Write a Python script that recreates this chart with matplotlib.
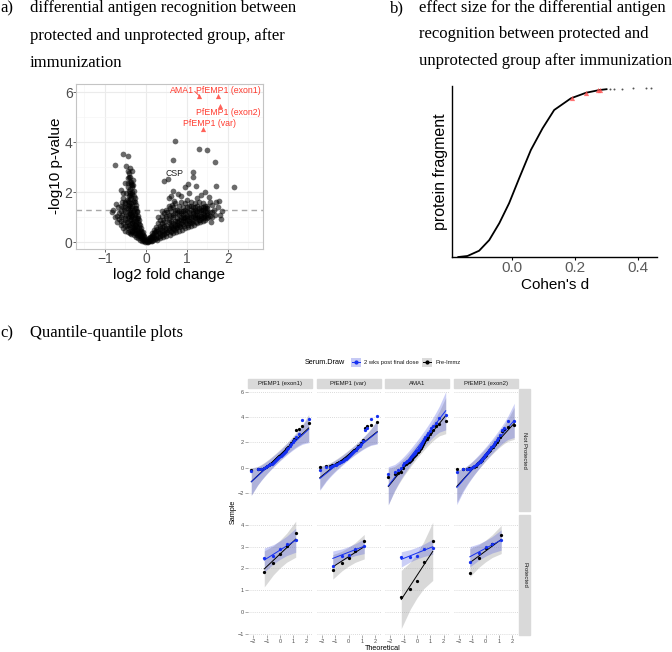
import matplotlib
matplotlib.use('Agg')
import matplotlib.pyplot as plt
from matplotlib.patches import Rectangle
from matplotlib.lines import Line2D
import numpy as np
from statistics import NormalDist

# ---------------- data ----------------
# panel a: volcano plot (log2 fold change, -log10 p)
volcano_pts = [
    (-0.02, 0.02), (-0.04, 0.06), (-0.05, 0.12), (-0.08, 0.1), (-0.1, 0.05), (-0.12, 0.18), (-0.15, 0.1),
    (-0.06, 0.2), (-0.18, 0.25), (-0.2, 0.15), (-0.22, 0.3), (-0.14, 0.32), (-0.25, 0.22), (-0.28, 0.35),
    (-0.3, 0.28), (-0.1, 0.38), (-0.33, 0.4), (-0.2, 0.42), (-0.36, 0.32), (-0.4, 0.45), (-0.26, 0.48),
    (-0.03, 0.1), (-0.07, 0.3), (-0.12, 0.45), (-0.16, 0.6), (-0.19, 0.8), (-0.23, 0.95), (-0.26, 1.15),
    (-0.3, 1.3), (-0.45, 0.55), (-0.15, 0.5), (-0.32, 0.55), (-0.38, 0.6), (-0.5, 0.65), (-0.22, 0.6),
    (-0.28, 0.68), (-0.42, 0.7), (-0.55, 0.75), (-0.35, 0.78), (-0.18, 0.72), (-0.47, 0.82), (-0.6, 0.85),
    (-0.25, 0.85), (-0.4, 0.9), (-0.3, 0.95), (-0.52, 0.95), (-0.65, 0.92), (-0.2, 0.98), (-0.36, 1.02),
    (-0.45, 1.05), (-0.58, 1.1), (-0.27, 1.1), (-0.7, 1.05), (-0.4, 1.15), (-0.32, 1.2), (-0.5, 1.2),
    (-0.22, 1.25), (-0.62, 1.25), (-0.38, 1.3), (-0.45, 1.35), (-0.28, 1.38), (-0.55, 1.4), (-0.35, 1.45),
    (-0.68, 1.42), (-0.42, 1.5), (-0.25, 1.5), (-0.5, 1.55), (-0.8, 1.3), (-0.76, 1.0), (-0.82, 1.22),
    (-0.32, 1.6), (-0.45, 1.65), (-0.38, 1.72), (-0.28, 1.78), (-0.55, 1.75), (-0.42, 1.85), (-0.33, 1.92),
    (-0.48, 1.98), (-0.3, 2.05), (-0.38, 2.12), (-0.45, 2.2), (-0.35, 2.28), (-0.5, 2.35), (-0.4, 2.42),
    (-0.32, 2.5), (-0.45, 2.55), (-0.55, 1.95), (-0.6, 2.1), (-0.58, 1.6), (-0.73, 1.52),
    (-0.38, 2.62), (-0.42, 2.75), (-0.35, 2.85), (-0.45, 2.83), (-0.48, 3.05), (-0.76, 3.09), (-0.57, 3.52),
    (-0.45, 3.45), (-0.4, 2.95), (-0.36, 2.4),
    (-0.34, 0.65), (-0.42, 1.0), (-0.35, 1.1), (-0.48, 1.1), (-0.38, 1.45), (-0.3, 1.65), (-0.4, 1.95),
    (-0.36, 1.8), (-0.44, 2.35), (-0.33, 2.2), (-0.5, 1.4), (-0.6, 1.0), (-0.55, 0.55), (-0.62, 0.7),
    (-0.27, 0.55), (-0.24, 0.75), (-0.15, 0.28), (-0.09, 0.22), (-0.17, 0.42),
    (-0.05, 0.25), (-0.08, 0.4), (-0.11, 0.55), (-0.14, 0.7), (-0.17, 0.88), (-0.2, 1.05), (-0.23, 1.2),
    (-0.25, 1.35), (-0.27, 1.6), (-0.29, 1.85), (-0.31, 2.3), (-0.24, 0.35), (-0.29, 0.5), (-0.33, 0.75),
    (-0.37, 0.92), (-0.41, 1.25), (-0.44, 1.45), (-0.47, 1.7), (-0.36, 1.58), (-0.34, 1.35), (-0.39, 1.12),
    (-0.43, 0.8), (-0.47, 0.65), (-0.35, 0.45), (-0.3, 0.62), (-0.31, 0.85), (-0.28, 1.02), (-0.33, 1.05),
    (-0.37, 1.2), (-0.41, 1.62), (-0.39, 1.88), (-0.35, 2.0), (-0.42, 2.05), (-0.37, 2.32), (-0.42, 2.6),
    (-0.5, 0.9), (-0.53, 1.3), (-0.52, 1.6), (-0.6, 1.45), (-0.65, 1.15), (-0.7, 0.8), (-0.21, 0.5),
    (-0.19, 0.35), (-0.13, 0.25), (-0.25, 0.65), (-0.29, 0.82), (-0.4, 0.35), (-0.45, 0.4), (-0.5, 0.45),
    (0.02, 0.02), (0.05, 0.05), (0.08, 0.03), (0.1, 0.1), (0.12, 0.06), (0.15, 0.15), (0.18, 0.08),
    (0.2, 0.2), (0.22, 0.12), (0.25, 0.28), (0.28, 0.1), (0.3, 0.2), (0.32, 0.35), (0.35, 0.15),
    (0.38, 0.28), (0.4, 0.42), (0.42, 0.2), (0.45, 0.32), (0.48, 0.5), (0.5, 0.25), (0.52, 0.4),
    (0.55, 0.58), (0.58, 0.3), (0.6, 0.45), (0.62, 0.65), (0.65, 0.35), (0.68, 0.52), (0.7, 0.72),
    (0.72, 0.4), (0.75, 0.6), (0.78, 0.8), (0.8, 0.45), (0.82, 0.65), (0.85, 0.9), (0.88, 0.5),
    (0.9, 0.72), (0.92, 0.98), (0.95, 0.55), (0.98, 0.78), (1.0, 1.05), (1.02, 0.6), (1.05, 0.85),
    (1.08, 1.1), (1.1, 0.65), (1.12, 0.9), (1.15, 1.15), (1.18, 0.7), (1.2, 0.95), (1.22, 1.2),
    (1.25, 0.75), (1.28, 1.0), (1.3, 1.25), (1.32, 0.8), (1.35, 1.05), (1.38, 1.3), (1.4, 0.85),
    (1.42, 1.1), (1.45, 0.9), (1.48, 1.15), (1.5, 0.95), (1.55, 1.2), (1.6, 1.0), (1.65, 1.3), (1.58, 0.8),
    (0.15, 0.35), (0.2, 0.5), (0.25, 0.62), (0.3, 0.75), (0.3, 1.0), (0.35, 0.88), (0.4, 1.05),
    (0.38, 1.25), (0.45, 1.18), (0.45, 0.8), (0.5, 1.3), (0.5, 0.95), (0.55, 1.1), (0.55, 1.45),
    (0.6, 1.25), (0.6, 0.85), (0.65, 1.4), (0.65, 1.0), (0.7, 1.15), (0.7, 1.55), (0.75, 1.3),
    (0.75, 0.95), (0.8, 1.45), (0.8, 1.1), (0.85, 1.25), (0.85, 1.6), (0.9, 1.4), (0.9, 1.1),
    (0.95, 1.3), (0.95, 1.55), (1.0, 1.25), (1.0, 1.7), (1.05, 1.45), (1.1, 1.3), (1.1, 1.6),
    (1.15, 1.4), (1.2, 1.55), (1.2, 1.3), (1.25, 1.45), (1.3, 1.6), (1.35, 1.4), (1.4, 1.55),
    (1.45, 1.35), (1.5, 1.45), (1.55, 1.6), (1.62, 1.5),
    (0.3, 0.45), (0.4, 0.6), (0.5, 0.7), (0.6, 0.6), (0.7, 0.85), (0.8, 0.7), (0.9, 0.85), (1.0, 0.9),
    (1.1, 0.8), (1.2, 1.1), (1.3, 0.9), (1.4, 1.0), (1.5, 1.1), (0.2, 0.35), (0.25, 0.45), (0.35, 0.55),
    (0.45, 0.65), (0.55, 0.8), (0.65, 0.75), (0.75, 0.85), (0.85, 1.0), (0.95, 1.0), (1.05, 1.0),
    (1.15, 1.05), (1.25, 1.1), (1.35, 1.2), (1.45, 1.25),
    (0.06, 0.12), (0.1, 0.2), (0.14, 0.25), (0.18, 0.3), (0.22, 0.4), (0.27, 0.52), (0.33, 0.65),
    (0.38, 0.75), (0.42, 0.9), (0.48, 1.05), (0.52, 1.2), (0.58, 1.35), (0.63, 1.5), (0.68, 1.65),
    (0.35, 0.38), (0.45, 0.45), (0.55, 0.5), (0.65, 0.55), (0.75, 0.7), (0.85, 0.75), (0.95, 0.85),
    (1.05, 0.75), (1.15, 0.85), (1.25, 0.95), (1.35, 0.95), (1.45, 1.05), (1.55, 1.05), (1.6, 1.2),
    (0.4, 0.5), (0.5, 0.55), (0.6, 0.7), (0.7, 0.65), (0.8, 0.9), (0.9, 0.95), (1.0, 0.95), (1.1, 1.0),
    (1.2, 1.0), (1.3, 1.05), (1.4, 1.15), (1.5, 1.25), (0.55, 0.9), (0.65, 1.1), (0.75, 1.15),
    (0.85, 1.15), (0.95, 1.15), (1.05, 1.2), (1.15, 1.25), (1.25, 1.25), (1.35, 1.3), (1.45, 1.45),
    (0.6, 1.05), (0.7, 1.3), (0.8, 1.25), (0.9, 1.25), (1.0, 1.4), (1.1, 1.45), (1.2, 1.4), (1.3, 1.35),
    (1.4, 1.4), (1.5, 1.35), (0.72, 0.55), (0.82, 0.6), (0.92, 0.65), (1.02, 0.7), (1.12, 0.75),
    (1.22, 0.8), (1.32, 0.88), (1.42, 0.95), (1.52, 1.0), (0.5, 0.38), (0.6, 0.4), (0.7, 0.48),
    (0.25, 0.18), (0.33, 0.25), (0.15, 0.05), (0.05, 0.02), (0.03, 0.08), (0.08, 0.15), (0.12, 0.2),
    (0.65, 2.05), (0.77, 1.92), (0.94, 2.19), (1.02, 2.32), (1.22, 2.25), (1.14, 2.59), (1.14, 2.79),
    (1.7, 2.25), (2.14, 2.21), (1.7, 1.59), (1.78, 1.65), (1.86, 1.25), (1.84, 0.92), (1.69, 1.09),
    (1.53, 1.79), (0.45, 2.45), (0.54, 2.52), (0.67, 3.28), (0.715, 4.03), (1.29, 3.72), (1.5, 3.7),
    (1.69, 3.19), (0.55, 1.75), (0.62, 1.85), (1.35, 1.9), (1.25, 1.75), (0.85, 1.85), (1.05, 1.95),
    (1.45, 2.0), (1.75, 1.4), (1.8, 1.1),
]
hit_names = ['AMA1', 'PfEMP1 (exon1)', 'PfEMP1 (exon2)', 'PfEMP1 (var)']
hit_fc = [1.30, 1.75, 1.81, 1.38]
hit_p = [5.85, 5.86, 5.45, 4.52]
p_cutoff = 1.3

# panel b: sorted effect sizes
cohen_d = [-0.17, -0.141, -0.104, -0.072, -0.040, -0.009, 0.023, 0.060, 0.097, 0.134, 0.187, 0.235, 0.277, 0.30]
fragment_rank = [0.0, 0.006, 0.037, 0.10, 0.20, 0.318, 0.466, 0.633, 0.761, 0.870, 0.939, 0.972, 0.988, 0.993]
tail_d = [0.31, 0.325, 0.35, 0.385, 0.425, 0.44]
tail_rank = [0.995, 0.996, 0.997, 0.998, 0.999, 1.0]
hit_d = [0.19, 0.235, 0.272, 0.28]
hit_rank = [0.94, 0.972, 0.986, 0.99]

# panel c: QQ samples
antigens = ['PfEMP1 (exon1)', 'PfEMP1 (var)', 'AMA1', 'PfEMP1 (exon2)']
groups = ['Not Protected', 'Protected']
exon1_np_pre = [-0.15, -0.13, -0.10, -0.02, 0.06, 0.14, 0.22, 0.30, 0.38, 0.46, 0.54, 0.62, 0.70, 0.78, 0.86, 0.94,
                1.02, 1.10, 1.18, 1.27, 1.36, 1.45, 1.55, 1.65, 1.78, 1.92, 2.08, 2.25, 2.95, 3.08, 3.25, 3.50]
exon1_np_post = [-0.22, -0.12, -0.06, 0.00, 0.06, 0.12, 0.19, 0.26, 0.33, 0.40, 0.47, 0.54, 0.61, 0.68, 0.75, 0.82,
                 0.90, 0.98, 1.06, 1.15, 1.25, 1.35, 1.46, 1.58, 1.70, 1.84, 2.00, 2.20, 2.40, 2.62, 3.80, 3.82]
var_np_pre = [0.10, 0.12, 0.16, 0.20, 0.25, 0.30, 0.36, 0.42, 0.48, 0.54, 0.60, 0.66, 0.72, 0.78, 0.85, 0.92,
              0.99, 1.06, 1.13, 1.21, 1.29, 1.38, 1.47, 1.57, 1.68, 1.80, 1.95, 2.15, 3.15, 3.28, 3.35, 3.62]
var_np_post = [-0.15, 0.05, 0.10, 0.15, 0.20, 0.25, 0.30, 0.36, 0.42, 0.48, 0.54, 0.60, 0.66, 0.72, 0.79, 0.86,
               0.93, 1.00, 1.08, 1.16, 1.24, 1.33, 1.42, 1.52, 1.63, 1.75, 1.90, 2.10, 3.00, 3.12, 3.85, 4.05]
ama1_np_pre = [-0.70, -0.45, -0.40, -0.30, -0.05, 0.20, 0.30, 0.38, 0.46, 0.54, 0.62, 0.72, 0.82, 0.92, 1.02, 1.12,
               1.22, 1.33, 1.45, 1.58, 1.72, 1.86, 2.00, 2.15, 2.30, 2.45, 2.62, 2.80, 3.00, 3.25, 3.45, 3.72]
ama1_np_post = [-0.50, -0.30, -0.20, 0.00, 0.20, 0.35, 0.45, 0.55, 0.63, 0.72, 0.81, 0.90, 1.00, 1.10, 1.20, 1.31,
                1.42, 1.54, 1.66, 1.80, 1.95, 2.10, 2.26, 2.42, 2.58, 2.75, 2.92, 3.10, 3.30, 3.55, 3.95, 4.15]
exon2_np_pre = [-0.10, -0.10, -0.08, -0.05, -0.02, 0.03, 0.10, 0.18, 0.26, 0.35, 0.45, 0.55, 0.65, 0.75, 0.85, 0.95,
                1.04, 1.13, 1.22, 1.32, 1.42, 1.52, 1.63, 1.76, 1.90, 2.05, 2.20, 2.40, 2.90, 3.05, 3.20, 3.40]
exon2_np_post = [-0.37, -0.12, -0.10, -0.06, -0.01, 0.05, 0.12, 0.20, 0.28, 0.37, 0.47, 0.57, 0.67, 0.77, 0.87, 0.97,
                 1.07, 1.17, 1.27, 1.38, 1.50, 1.62, 1.75, 1.88, 2.02, 2.18, 2.36, 2.58, 3.00, 3.12, 3.65, 3.72]
exon1_p_pre = [1.86, 2.27, 2.65, 3.05, 3.62]
exon1_p_post = [2.50, 2.58, 2.88, 3.10, 3.30]
var_p_pre = [1.95, 2.27, 2.50, 2.80, 3.28]
var_p_post = [2.12, 2.58, 2.62, 2.90, 3.02]
ama1_p_pre = [0.69, 1.05, 1.42, 2.31, 3.25]
ama1_p_post = [2.52, 2.54, 2.56, 2.87, 2.95]
exon2_p_pre = [1.78, 2.49, 2.95, 3.10, 3.52]
exon2_p_post = [2.30, 2.70, 3.00, 3.14, 3.30]

samples_pre = [[exon1_np_pre, var_np_pre, ama1_np_pre, exon2_np_pre],
               [exon1_p_pre, var_p_pre, ama1_p_pre, exon2_p_pre]]
samples_post = [[exon1_np_post, var_np_post, ama1_np_post, exon2_np_post],
                [exon1_p_post, var_p_post, ama1_p_post, exon2_p_post]]

# ---------------- figure ----------------
W, H = 672, 652
fig = plt.figure(figsize=(W / 100, H / 100), dpi=100)
SERIF = ['Liberation Serif', 'DejaVu Serif']
SANS = ['Liberation Sans', 'DejaVu Sans']


def box(x0, y0, x1, y1):
    # pixel box, origin top-left -> figure fraction rect
    return [x0 / W, 1 - y1 / H, (x1 - x0) / W, (y1 - y0) / H]


def ftext(x, y, s, **kw):
    kw.setdefault('family', SANS)
    fig.text(x / W, 1 - y / H, s, **kw)


# headings
ftext(0, 12, 'a)', family=SERIF, fontsize=12, va='baseline')
for i, line in enumerate(['differential antigen recognition between',
                          'protected and unprotected group, after', 'immunization']):
    ftext(30, 12 + i * 27.5, line, family=SERIF, fontsize=12, va='baseline')
ftext(390, 12, 'b)', family=SERIF, fontsize=12, va='baseline')
for i, line in enumerate(['effect size for the differential antigen',
                          'recognition between protected and',
                          'unprotected group after immunization']):
    ftext(419, 12 + i * 26.5, line, family=SERIF, fontsize=12, va='baseline')
ftext(0, 337, 'c)', family=SERIF, fontsize=12, va='baseline')
ftext(30, 337, 'Quantile-quantile plots', family=SERIF, fontsize=12, va='baseline')

# ---------- panel a ----------
RED = '#FF3B2F'
ax = fig.add_axes(box(76, 84, 263, 249))
vx = [p[0] for p in volcano_pts]
vy = [p[1] for p in volcano_pts]
ax.scatter(vx, vy, s=17, c='black', alpha=0.58, linewidths=0, zorder=2)
ax.scatter(hit_fc, hit_p, s=14, marker='^', c=RED, alpha=0.8, linewidths=0, zorder=3)
ax.axhline(p_cutoff, color='#A8A8A8', lw=1, ls=(0, (4, 3)), zorder=1.5)
ax.set_xlim(-1.707, 2.854)
ax.set_ylim(-0.28, 6.32)
ax.set_xticks([-1, 0, 1, 2])
ax.set_yticks([0, 2, 4, 6])
ax.set_xticks([-1.5, -0.5, 0.5, 1.5, 2.5], minor=True)
ax.set_yticks([1, 3, 5], minor=True)
ax.grid(which='major', color='#EBEBEB', lw=0.8)
ax.grid(which='minor', color='#F5F5F5', lw=0.5)
ax.set_axisbelow(True)
for s in ax.spines.values():
    s.set_color('#C4C4C4')
    s.set_linewidth(0.8)
ax.tick_params(which='major', length=2, width=0.6, color='#4D4D4D', labelsize=10,
               labelcolor='#4D4D4D', pad=0.5)
ax.tick_params(which='minor', length=0)
for t in ax.get_xticklabels() + ax.get_yticklabels():
    t.set_family(SANS)
label_pos = {'AMA1': (1.18, 6.05, 'right'), 'PfEMP1 (exon1)': (1.21, 6.05, 'left'),
             'PfEMP1 (exon2)': (1.21, 5.19, 'left'), 'PfEMP1 (var)': (0.91, 4.72, 'left')}
for name in hit_names:
    tx, ty, ha = label_pos[name]
    ax.text(tx, ty, name, color=RED, fontsize=6.3, ha=ha, va='center', family=SANS)
ax.plot([1.19, hit_fc[0]], [6.02, hit_p[0]], color=RED, lw=0.6)
ax.text(0.69, 2.75, 'CSP', color='#222222', fontsize=6.3, ha='center', va='center', family=SANS)
ftext(56, 166, '-log10 p-value', fontsize=11, rotation=90, ha='center', va='center')
ftext(169, 275, 'log2 fold change', fontsize=11, ha='center', va='center')

# ---------- panel b ----------
bx = fig.add_axes(box(452, 86, 657, 257))
bx.plot(cohen_d, fragment_rank, color='black', lw=1.3, zorder=2)
bx.scatter(tail_d, tail_rank, s=2, c='#555555', linewidths=0, zorder=2)
bx.scatter(hit_d, hit_rank, s=14, marker='^', c='#FF5050', alpha=0.8, linewidths=0, zorder=3)
bx.set_xlim(-0.19, 0.46)
bx.set_ylim(0, 1.012)
bx.set_xticks([0.0, 0.2, 0.4])
bx.set_xticklabels(['0.0', '0.2', '0.4'])
bx.set_yticks([])
for side in ['top', 'right']:
    bx.spines[side].set_visible(False)
for side in ['left', 'bottom']:
    bx.spines[side].set_color('black')
    bx.spines[side].set_linewidth(1)
bx.tick_params(axis='x', length=2.2, width=0.8, color='black', labelsize=11, labelcolor='#5A5A5A', pad=0.5)
for t in bx.get_xticklabels():
    t.set_family(SANS)
ftext(440, 172, 'protein fragment', fontsize=11.5, rotation=90, ha='center', va='center')
ftext(555, 285, "Cohen's d", fontsize=11, ha='center', va='center')

# ---------- panel c ----------
nd = NormalDist()
BLUE = '#1530F0'
BLUE_FILL = '#4450E0'
GRAY_FILL = '#8A8A8A'


def qq_parts(sample):
    y = np.sort(np.asarray(sample, dtype=float))
    n = len(y)
    a = 3 / 8 if n <= 10 else 0.5
    p = (np.arange(1, n + 1) - a) / (n + 1 - 2 * a)
    z = np.array([nd.inv_cdf(v) for v in p])
    q1, q3 = np.quantile(y, [0.25, 0.75])
    z1, z3 = nd.inv_cdf(0.25), nd.inv_cdf(0.75)
    slope = (q3 - q1) / (z3 - z1)
    icpt = q1 - slope * z1
    fit = icpt + slope * z
    se = slope / np.array([nd.pdf(v) for v in z]) * np.sqrt(p * (1 - p) / n)
    half = nd.inv_cdf(0.975) * se
    return z, y, fit, fit - half, fit + half


col_x0 = [248, 316.5, 385, 453.5]
col_w = 64
row_y = [(389, 511), (515, 635)]
row_lim = [(-3.4, 6.2), (-1.05, 4.45)]
row_ticks = [[-2, 0, 2, 4, 6], [-1, 0, 1, 2, 3, 4]]
STRIP = '#D9D9D9'

for r in range(2):
    for c in range(4):
        x0 = col_x0[c]
        y0, y1 = row_y[r]
        qa = fig.add_axes(box(x0, y0, x0 + col_w, y1))
        qa.set_xlim(-2.4, 2.4)
        qa.set_ylim(*row_lim[r])
        for s in qa.spines.values():
            s.set_visible(False)
        qa.set_yticks(row_ticks[r])
        qa.set_xticks([-2, -1, 0, 1, 2])
        qa.grid(axis='y', color='#CFCFCF', lw=0.6, ls=(0, (1, 1.5)))
        qa.set_axisbelow(True)
        qa.tick_params(length=2, width=0.5, color='#8C8C8C', labelsize=4, labelcolor='#4D4D4D', pad=1)
        if c > 0:
            qa.tick_params(axis='y', left=False, labelleft=False)
        if r == 0:
            qa.tick_params(axis='x', bottom=False, labelbottom=False)
        for t in qa.get_xticklabels() + qa.get_yticklabels():
            t.set_family(SANS)
        for samp, fill, alpha in [(samples_pre[r][c], GRAY_FILL, 0.32),
                                  (samples_post[r][c], BLUE_FILL, 0.28)]:
            z, y, fit, lo, hi = qq_parts(samp)
            qa.fill_between(z, lo, hi, color=fill, alpha=alpha, linewidth=0, zorder=1)
        for samp, col in [(samples_pre[r][c], 'black'), (samples_post[r][c], BLUE)]:
            z, y, fit, lo, hi = qq_parts(samp)
            qa.plot(z, fit, color=col, lw=0.7, zorder=2)
            qa.scatter(z, y, s=5.5, c=col, linewidths=0, zorder=3)
        if r == 0:
            fig.patches.append(Rectangle((x0 / W, 1 - 388 / H), col_w / W, 9.5 / H,
                                         transform=fig.transFigure, color=STRIP, zorder=0))
            ftext(x0 + col_w / 2, 383.5, antigens[c], fontsize=4.3, ha='center', va='center', color='#1A1A1A')
    y0, y1 = row_y[r]
    fig.patches.append(Rectangle((519 / W, 1 - y1 / H), 11 / W, (y1 - y0) / H,
                                 transform=fig.transFigure, color=STRIP, zorder=0))
    ftext(524.5, (y0 + y1) / 2, groups[r], fontsize=4.3, rotation=-90, ha='center', va='center',
          color='#1A1A1A')

ftext(233, 512, 'Sample', fontsize=5.2, rotation=90, ha='center', va='center')
ftext(383, 649, 'Theoretical', fontsize=5.2, ha='center', va='center')

# legend
ftext(305, 362.5, 'Serum.Draw', fontsize=5.2, ha='left', va='center')
for kx, fill, col, lab in [(351, BLUE_FILL, BLUE, '2 wks post final dose'),
                           (422, GRAY_FILL, 'black', 'Pre-Immz')]:
    fig.patches.append(Rectangle((kx / W, 1 - 367 / H), 9.5 / W, 9 / H, transform=fig.transFigure,
                                 color=fill, alpha=0.3, lw=0, zorder=0))
    fig.add_artist(Line2D([(kx + 1) / W, (kx + 8.5) / W], [1 - 362.5 / H, 1 - 362.5 / H],
                          color=col, lw=0.7, transform=fig.transFigure))
    fig.add_artist(Line2D([(kx + 4.75) / W], [1 - 362.5 / H], marker='o', ms=2, color=col,
                          lw=0, transform=fig.transFigure))
    ftext(kx + 13, 362.5, lab, fontsize=4.2, ha='left', va='center', color='#1A1A1A')

fig.savefig('out.png', dpi=100)
